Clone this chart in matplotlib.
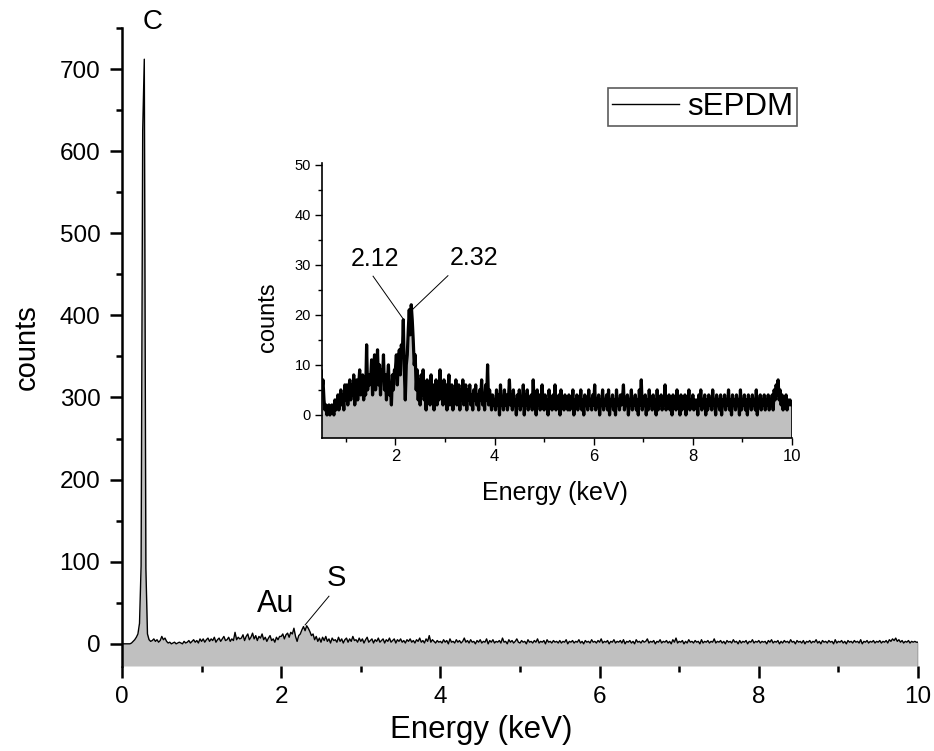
import numpy as np
import matplotlib
matplotlib.use("Agg")
import matplotlib.pyplot as plt
from matplotlib.ticker import MultipleLocator

plt.rcParams['font.family'] = ['Liberation Sans', 'DejaVu Sans']

# Energy grid (keV), 0.02 keV channels
energy = np.round(np.arange(0, 501) * 0.02, 2)

# counts, 25 values per 0.5 keV
counts = [
    0, 0, 0, 0, 0, 0, 1, 3, 5, 8, 12, 25, 95, 625, 712, 92, 12, 5, 3, 4, 6, 3, 5, 2, 4,
    9, 5, 7, 3, 1, 2, 0, 1, 2, 0, 1, 2, 1, 0, 3, 1, 2, 4, 1, 3, 5, 2, 4, 1, 6,
    3, 6, 2, 5, 7, 3, 6, 4, 8, 2, 5, 7, 3, 6, 9, 4, 5, 8, 3, 6, 4, 14, 5, 8, 6,
    7, 11, 4, 9, 12, 5, 8, 13, 6, 10, 4, 9, 7, 12, 5, 8, 3, 7, 10, 4, 6, 2, 8, 5, 9,
    9, 12, 6, 11, 13, 8, 14, 12, 19, 9, 3, 10, 12, 17, 21, 16, 22, 19, 15, 10, 12, 5, 9, 3, 7,
    2, 8, 4, 9, 3, 6, 1, 7, 4, 5, 2, 8, 3, 6, 1, 5, 7, 2, 6, 3, 9, 4, 5, 2, 7,
    3, 6, 1, 5, 8, 2, 4, 6, 1, 5, 3, 7, 2, 4, 6, 1, 5, 3, 7, 2, 4, 6, 1, 5, 3,
    6, 2, 4, 1, 5, 3, 6, 2, 4, 1, 5, 3, 7, 2, 4, 1, 6, 3, 10, 2, 5, 3, 1, 4, 2,
    3, 1, 5, 2, 4, 0, 6, 2, 3, 1, 5, 2, 4, 1, 3, 7, 2, 4, 1, 5, 2, 3, 0, 4, 2,
    5, 1, 3, 2, 6, 0, 4, 2, 5, 1, 3, 2, 4, 1, 7, 2, 3, 0, 5, 2, 4, 1, 3, 6, 2,
    1, 4, 2, 3, 0, 5, 2, 3, 1, 4, 2, 6, 1, 3, 2, 4, 0, 5, 2, 3, 1, 4, 2, 3, 1,
    4, 1, 3, 2, 5, 0, 3, 2, 4, 1, 3, 2, 5, 1, 3, 0, 4, 2, 3, 1, 5, 2, 3, 1, 4,
    2, 6, 1, 3, 2, 4, 0, 3, 2, 5, 1, 3, 2, 4, 1, 5, 0, 3, 2, 4, 1, 3, 0, 5, 2,
    3, 1, 4, 2, 3, 6, 1, 3, 2, 4, 0, 3, 2, 5, 1, 3, 2, 4, 1, 3, 0, 5, 2, 7, 1,
    3, 2, 4, 0, 3, 1, 5, 2, 3, 1, 4, 2, 3, 0, 5, 1, 3, 2, 4, 1, 3, 2, 6, 1, 3,
    2, 4, 1, 3, 0, 4, 2, 3, 1, 5, 2, 3, 0, 4, 1, 3, 2, 4, 0, 3, 2, 5, 1, 3, 2,
    4, 1, 3, 2, 3, 0, 4, 2, 5, 1, 3, 2, 4, 0, 3, 1, 4, 2, 3, 1, 5, 2, 3, 0, 4,
    2, 3, 1, 4, 0, 3, 2, 4, 1, 3, 2, 5, 1, 3, 0, 4, 2, 3, 1, 4, 2, 3, 0, 5, 1,
    3, 2, 4, 1, 3, 0, 4, 2, 3, 1, 4, 2, 3, 1, 5, 0, 3, 2, 4, 1, 3, 2, 4, 1, 3,
    2, 4, 1, 3, 2, 4, 1, 5, 3, 6, 4, 7, 3, 5, 2, 4, 1, 3, 2, 4, 1, 3, 2, 3, 2, 2,
]
counts = np.array(counts, dtype=float)

series_name = "sEPDM"
main_labels = ["C", "Au", "S"]
inset_labels = ["2.12", "2.32"]

fill_color = "#c0c0c0"
W, H = 934, 751

fig = plt.figure(figsize=(9.34, 7.51), dpi=100)

# ---------------- main axes ----------------
ax = fig.add_axes([122 / W, 1 - 666 / H, (918 - 122) / W, (666 - 28) / H])
ymin, ymax = -27, 750
ax.fill_between(energy, counts, ymin, color=fill_color, lw=0)
ax.plot(energy, counts, color='k', lw=1.0, label=series_name)
ax.plot([energy[-1], energy[-1]], [ymin, counts[-1]], color='k', lw=0.9)
ax.set_xlim(0, 10)
ax.set_ylim(ymin, ymax)
for s in ['top', 'right', 'bottom']:
    ax.spines[s].set_visible(False)
ax.spines['left'].set_linewidth(1.8)
ax.xaxis.set_major_locator(MultipleLocator(2))
ax.xaxis.set_minor_locator(MultipleLocator(1))
ax.set_yticks(np.arange(0, 701, 100))
ax.yaxis.set_minor_locator(MultipleLocator(50))
ax.set_ylim(ymin, ymax)
ax.tick_params(which='major', direction='out', length=8.6, width=1.8, labelsize=17.5)
ax.tick_params(axis='y', which='major', pad=7)
ax.tick_params(axis='x', which='major', pad=6)
ax.tick_params(which='minor', direction='out', length=4.3, width=1.8)

fig.text(481 / W, 1 - 730 / H, "Energy (keV)", fontsize=22.5, ha='center', va='center')
fig.text(27 / W, 1 - 347 / H, "counts", fontsize=21, ha='center', va='center', rotation=90)

ax.text(0.38, 757, main_labels[0], fontsize=20, ha='center', va='center', clip_on=False)
ax.text(1.93, 48, main_labels[1], fontsize=22, ha='center', va='center')
ax.text(2.69, 80, main_labels[2], fontsize=21, ha='center', va='center')
ax.plot([2.60, 2.30], [58, 23], color='k', lw=0.7)

leg = ax.legend(loc='upper right', bbox_to_anchor=(797 / W, 1 - 88 / H),
                bbox_transform=fig.transFigure, fontsize=22.5, frameon=True,
                fancybox=False, borderaxespad=0, handlelength=2.15,
                borderpad=0.12, handletextpad=0.25)
leg.get_frame().set_edgecolor('#333333')
leg.get_frame().set_linewidth(1.2)

# ---------------- inset ----------------
iax = fig.add_axes([322 / W, 1 - 438 / H, (792 - 322) / W, (438 - 163) / H])
iymin, iymax = -4.6, 50.3
iax.fill_between(energy, counts, iymin, color=fill_color, lw=0)
iax.plot(energy, counts, color='k', lw=2.3)
iax.plot([energy[-1], energy[-1]], [iymin, counts[-1]], color='k', lw=1.2)
iax.set_xlim(0.52, 10)
iax.set_ylim(iymin, iymax)
iax.patch.set_alpha(0)
for s in ['top', 'right']:
    iax.spines[s].set_visible(False)
for s in ['left', 'bottom']:
    iax.spines[s].set_linewidth(1.2)
iax.xaxis.set_major_locator(MultipleLocator(2))
iax.xaxis.set_minor_locator(MultipleLocator(1))
iax.yaxis.set_major_locator(MultipleLocator(10))
iax.yaxis.set_minor_locator(MultipleLocator(5))
iax.tick_params(which='major', direction='out', length=5, width=1.0, labelsize=10.5, pad=3)
iax.tick_params(axis='x', which='major', labelsize=12)
iax.tick_params(which='minor', direction='out', length=3, width=1.0)

fig.text(555 / W, 1 - 493 / H, "Energy (keV)", fontsize=18, ha='center', va='center')
fig.text(268 / W, 1 - 317 / H, "counts", fontsize=17, ha='center', va='center', rotation=90)

iax.text(1.58, 31.2, inset_labels[0], fontsize=18, ha='center', va='center')
iax.text(3.58, 31.4, inset_labels[1], fontsize=18, ha='center', va='center')
iax.plot([1.55, 2.17], [27.7, 19], color='k', lw=0.7)
iax.plot([3.06, 2.35], [27.8, 21.1], color='k', lw=0.7)

fig.savefig("out.png", dpi=100)
